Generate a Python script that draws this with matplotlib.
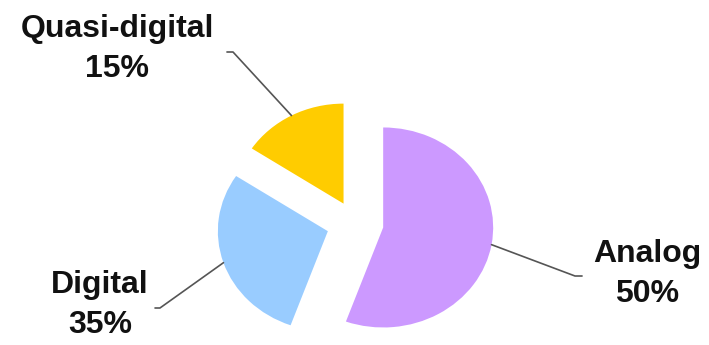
import numpy as np
import matplotlib.pyplot as plt

# slice sizes as drawn in the picture, and the percentages printed on the labels
names = ["Analog", "Digital", "Quasi-digital"]
shares = [55.5, 28.8, 15.7]
label_pct = [50, 35, 15]
colors = ["#CC99FF", "#99CCFF", "#FFCC00"]

explode = [0.26, 0.26, 0.22]
# label block centres and leader elbows (data units, pie radius = 1)
label_xy = [(2.655, -0.51), (-2.318, -0.82), (-2.164, 1.74)]
elbow_xy = [(2.0, -0.53), (-1.773, -0.85), (-1.109, 1.71)]
stub_dx = [0.064, -0.045, -0.055]

plt.rcParams['font.family'] = ['Liberation Sans', 'DejaVu Sans']

fig = plt.figure(figsize=(7.09, 3.45), dpi=100)
ax = fig.add_axes([0, 0, 1, 1])

wedges, _ = ax.pie(shares, explode=explode, colors=colors, startangle=90,
                   counterclock=False, radius=1,
                   wedgeprops=dict(linewidth=0))

for w, name, pct, (lx, ly), (ex, ey), sdx in zip(wedges, names, label_pct,
                                                  label_xy, elbow_xy, stub_dx):
    mid = np.deg2rad((w.theta1 + w.theta2) / 2)
    cx, cy = w.center
    sx, sy = cx + np.cos(mid) * 1.0, cy + np.sin(mid) * 1.0
    ax.plot([sx, ex, ex + sdx], [sy, ey, ey], color="#555555", lw=1.2,
            solid_capstyle="round")
    ax.text(lx, ly, f"{name}\n{pct}%", ha="center", va="center",
            fontsize=23, fontweight="bold", color="#111111", linespacing=1.45)

ax.set_aspect('auto')
ax.set_xlim(-355 / 110, (709 - 355) / 110)
ax.set_ylim(-122 / 100, 223 / 100)
ax.axis('off')

fig.savefig("out.png", dpi=100)
